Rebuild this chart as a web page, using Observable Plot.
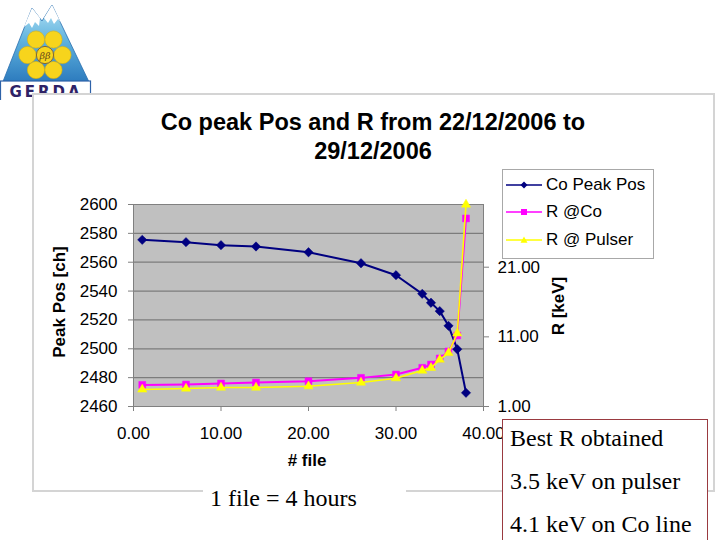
<!DOCTYPE html>
<html>
<head>
<meta charset="utf-8">
<script src="https://cdn.jsdelivr.net/npm/d3@7"></script>
<script src="https://cdn.jsdelivr.net/npm/@observablehq/plot@0.6"></script>
<style>
  html, body { margin: 0; padding: 0; background: white; }
  #page { position: relative; width: 720px; height: 540px; overflow: hidden; background: white; font-family: 'Liberation Sans', Arial, sans-serif; }
  .abs { position: absolute; }
  #chartbox { left: 32px; top: 93px; width: 679px; height: 395px; border: 2px solid #d4d4d4; background: white; z-index: 2; }
  #plot { left: 0; top: 0; z-index: 3; }
  #title { left: 73px; width: 600px; top: 108px; text-align: center; font-weight: bold; font-size: 23.5px; line-height: 29px; z-index: 4; }
  .axtitle { font-weight: bold; font-size: 17px; white-space: nowrap; z-index: 4; transform: translate(-50%, -50%); }
  .vert { transform: translate(-50%, -50%) rotate(-90deg); }
  #legend { left: 502px; top: 169px; width: 150px; height: 88px; border: 1px solid #a8a8a8; background: white; z-index: 4; }
  .lrow { position: absolute; left: 2px; height: 20px; display: flex; align-items: center; font-size: 17px; }
  .lrow svg { display: block; margin-right: 3px; }
  #note { left: 203px; top: 480px; width: 203px; height: 36px; background: white; z-index: 5; font-family: 'Liberation Serif', 'Times New Roman', serif; font-size: 24px; line-height: 36px; padding-left: 7px; box-sizing: border-box; }
  #best { left: 502px; top: 419px; width: 206px; height: 140px; border: 1px solid #9a3a40; background: white; z-index: 5; font-family: 'Liberation Serif', 'Times New Roman', serif; font-size: 24px; line-height: 43px; padding-left: 7px; box-sizing: border-box; }
  #best div { position: relative; top: -3px; }
  #logo { left: 0; top: 0; z-index: 1; }
</style>
</head>
<body>
<div id="page">
  <svg id="logo" class="abs" width="92" height="100" viewBox="0 0 92 100">
    <defs>
      <linearGradient id="mtn" x1="0" y1="0" x2="0" y2="1">
        <stop offset="0" stop-color="#b4e2f4"/>
        <stop offset="0.45" stop-color="#5fb2de"/>
        <stop offset="1" stop-color="#2a78bc"/>
      </linearGradient>
    </defs>
    <polygon points="2,84 32,8 42,21 52,5 90,84" fill="url(#mtn)" stroke="#2a6fb0" stroke-width="0.8"/>
    <polygon points="32,8 24,27 29,23 32,28 35,22 39,26 40,18" fill="white"/>
    <polygon points="52,5 44,18 48,23 51,18 54,24 58,19 61,23" fill="white"/>
    <g fill="#f7d41c" stroke="#e2b400" stroke-width="0.6">
      <circle cx="36" cy="39.5" r="8.6"/>
      <circle cx="53.5" cy="39.5" r="8.6"/>
      <circle cx="27.5" cy="55" r="8.6"/>
      <circle cx="62.5" cy="55" r="8.6"/>
      <circle cx="36" cy="70" r="8.6"/>
      <circle cx="53.5" cy="70" r="8.6"/>
      <circle cx="45" cy="55" r="8.6" stroke="#8a6a2a" stroke-width="1"/>
    </g>
    <text x="45" y="58.5" text-anchor="middle" font-size="9.5" font-style="italic" font-family="'DejaVu Serif', serif" fill="#6a4a1a">ββ</text>
    <rect x="0.5" y="81" width="90" height="20" fill="white" stroke="#2e62a8" stroke-width="1.2"/>
    <text x="46" y="97" text-anchor="middle" font-size="15" font-weight="bold" letter-spacing="3" font-family="'DejaVu Sans', sans-serif" fill="#2e2266">GERDA</text>
  </svg>
  <div id="chartbox" class="abs"></div>
  <div id="plot" class="abs"></div>
  <div id="title" class="abs">Co peak Pos and R from 22/12/2006 to<br>29/12/2006</div>
  <div class="abs axtitle" style="left:307px; top:461px;"># file</div>
  <div class="abs axtitle vert" style="left:60px; top:302px;">Peak Pos [ch]</div>
  <div class="abs axtitle vert" style="left:559px; top:306px;">R [keV]</div>
  <div id="legend" class="abs"></div>
  <div id="note" class="abs">1 file = 4 hours</div>
  <div id="best" class="abs"><div>Best R obtained<br>3.5 keV on pulser<br>4.1 keV on Co line</div></div>
</div>
<script>
// ---- data ----
const files      = [1, 6, 10, 14, 20, 26, 30, 33, 34, 35, 36, 37, 38];
const coPeakPos  = [2575.5, 2573.9, 2571.8, 2570.9, 2566.9, 2559.3, 2551.0, 2538.1, 2531.9, 2526.1, 2515.9, 2499.7, 2469.5];
const rAtCo      = [4.10, 4.15, 4.30, 4.44, 4.63, 5.11, 5.59, 6.55, 7.02, 7.90, 8.90, 11.20, 28.0];
const rAtPulser  = [3.45, 3.58, 3.72, 3.72, 3.91, 4.44, 5.06, 6.16, 6.55, 7.74, 8.70, 11.50, 30.0];
const seriesNames = ["Co Peak Pos", "R @Co", "R @ Pulser"];
const xTicks = [0, 10, 20, 30, 40];
const yTicks = [2460, 2480, 2500, 2520, 2540, 2560, 2580, 2600];
const rTicks = [1, 11, 21];
const xDomain = [0, 40];
const yDomain = [2460, 2600];
const rDomain = [1, 30];

// secondary axis mapping (R -> primary y scale)
const k = (yDomain[1] - yDomain[0]) / (rDomain[1] - rDomain[0]);
const mapR = r => yDomain[0] + (r - rDomain[0]) * k;
const unmapR = v => rDomain[0] + (v - yDomain[0]) / k;

const coData = files.map((f, i) => ({file: f, v: coPeakPos[i]}));
const rcoData = files.map((f, i) => ({file: f, v: mapR(rAtCo[i])}));
const rpData = files.map((f, i) => ({file: f, v: mapR(rAtPulser[i])}));

const colors = ["#000080", "#ff00ff", "#ffff00"];
const f2 = d3.format(".2f");

const chart = Plot.plot({
  width: 720,
  height: 540,
  marginLeft: 133,
  marginRight: 237,
  marginTop: 204,
  marginBottom: 134,
  x: {domain: xDomain},
  y: {domain: yDomain},
  style: {background: "transparent", fontFamily: "'Liberation Sans', Arial, sans-serif", fontSize: "17px", color: "black", overflow: "visible"},
  marks: [
    Plot.frame({fill: "#c0c0c0"}),
    Plot.ruleY(yTicks.slice(1, -1), {stroke: "#7c7c7c", strokeWidth: 1.2}),
    Plot.frame({stroke: "#808080"}),
    Plot.axisX({ticks: xTicks, tickFormat: f2, tickSize: 5, tickPadding: 15, stroke: "#808080", fill: "black", label: null}),
    Plot.axisY({anchor: "left", ticks: yTicks, tickFormat: d3.format("d"), tickSize: 5, tickPadding: 11, stroke: "#808080", fill: "black", label: null}),
    Plot.axisY({anchor: "right", ticks: rTicks.map(mapR), tickFormat: v => f2(unmapR(v)), tickSize: 5, tickPadding: 9, stroke: "#808080", fill: "black", label: null}),
    Plot.line(coData, {x: "file", y: "v", stroke: colors[0], strokeWidth: 2}),
    Plot.dot(coData, {x: "file", y: "v", symbol: "diamond2", r: 4.2, fill: colors[0], stroke: colors[0], strokeWidth: 0.5}),
    Plot.line(rcoData, {x: "file", y: "v", stroke: colors[1], strokeWidth: 2}),
    Plot.dot(rcoData, {x: "file", y: "v", symbol: "square", r: 3.9, fill: colors[1], stroke: colors[1], strokeWidth: 0.5}),
    Plot.line(rpData, {x: "file", y: "v", stroke: colors[2], strokeWidth: 1.6}),
    Plot.dot(rpData, {x: "file", y: "v", symbol: "triangle", r: 3.4, fill: colors[2], stroke: colors[2], strokeWidth: 0.5})
  ]
});
document.getElementById("plot").appendChild(chart);

// legend
const legend = document.getElementById("legend");
const markerSvg = [
  '<polygon points="19,3.5 22.5,7 19,10.5 15.5,7" fill="#000080"/>',
  '<rect x="16" y="4" width="6" height="6" fill="#ff00ff"/>',
  '<polygon points="19,3.5 22.5,9.8 15.5,9.8" fill="#ffff00"/>'
];
const rowTops = [5, 32, 60];
seriesNames.forEach((name, i) => {
  const row = document.createElement("div");
  row.className = "lrow";
  row.style.top = rowTops[i] + "px";
  row.innerHTML = '<svg width="38" height="14"><line x1="1" y1="7" x2="37" y2="7" stroke="' + colors[i] + '" stroke-width="' + (i === 2 ? 1.3 : 1.6) + '"/>' + markerSvg[i] + '</svg><span>' + name + '</span>';
  legend.appendChild(row);
});
</script>
</body>
</html>
